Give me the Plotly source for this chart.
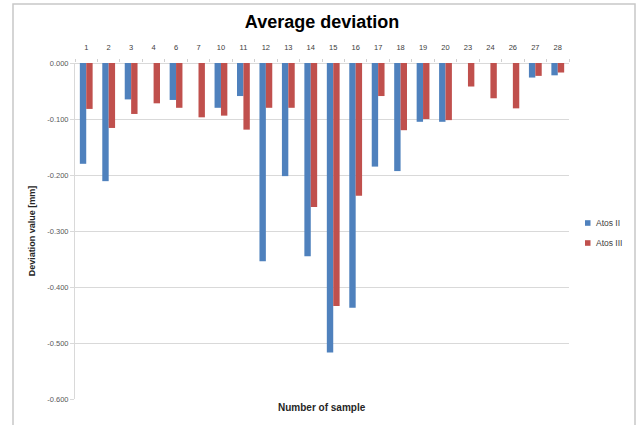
import plotly.graph_objects as go

samples = ["1", "2", "3", "4", "6", "7", "10", "11", "12", "13", "14", "15",
           "16", "17", "18", "19", "20", "23", "24", "26", "27", "28"]
atos_ii = [-0.180, -0.211, -0.065, None, -0.066, None, -0.080, -0.059, -0.354, -0.202, -0.345, -0.517,
           -0.437, -0.185, -0.193, -0.105, -0.105, None, None, None, -0.026, -0.022]
atos_iii = [-0.082, -0.116, -0.091, -0.072, -0.080, -0.097, -0.094, -0.119, -0.080, -0.080, -0.257, -0.434,
            -0.237, -0.059, -0.120, -0.100, -0.102, -0.042, -0.063, -0.081, -0.023, -0.017]
series_names = ["Atos II", "Atos III"]
y_ticks = [0.0, -0.1, -0.2, -0.3, -0.4, -0.5, -0.6]
y_tick_labels = ["0.000", "-0.100", "-0.200", "-0.300", "-0.400", "-0.500", "-0.600"]

FONT = "Liberation Sans"
W, H = 637, 425
L, R, T, B = 75, 68, 63, 26
PW, PH = W - L - R, H - T - B
BLUE, RED = "#4F81BD", "#C0504D"


def px_x(x):
    return (x - L) / PW


def px_y(y):
    return 1 - (y - T) / PH


fig = go.Figure()
fig.add_trace(go.Bar(x=samples, y=atos_ii, name=series_names[0], marker_color=BLUE,
                     marker_line_width=0))
fig.add_trace(go.Bar(x=samples, y=atos_iii, name=series_names[1], marker_color=RED,
                     marker_line_width=0))

fig.update_layout(
    width=W, height=H,
    margin=dict(l=L, r=R, t=T, b=B, pad=0, autoexpand=False),
    paper_bgcolor="white", plot_bgcolor="white",
    barmode="group", bargap=0.43, bargroupgap=0,
    font=dict(family=FONT, color="#404040", size=7),
    title=dict(text="<b>Average deviation</b>", x=(L + (W - R)) / 2 / W, xanchor="center",
               y=1 - 22 / H, yanchor="middle",
               font=dict(family=FONT, size=18, color="#000000")),
    showlegend=False,
    xaxis=dict(side="top", type="category", showgrid=False, showline=False,
               ticks="outside", tickson="boundaries", ticklen=3, tickcolor="#D0D0D0",
               tickfont=dict(size=7.5, color="#404040"), ticklabelstandoff=11, automargin=False),
    yaxis=dict(range=[-0.6, 0], tickvals=y_ticks, ticktext=y_tick_labels,
               showgrid=True, gridcolor="#D9D9D9", gridwidth=1,
               showline=True, linecolor="#D9D9D9", linewidth=1,
               zeroline=True, zerolinecolor="#D9D9D9", zerolinewidth=1,
               ticks="outside", ticklen=4, tickcolor="#D9D9D9", automargin=False,
               tickfont=dict(size=7.5, color="#595959"),
               title=dict(text="<b>Deviation value [mm]</b>", font=dict(size=9, color="#262626"),
                          standoff=10)),
)

# legend (small square keys next to the labels, as in the original)
for name, color, yc in [(series_names[0], BLUE, 223), (series_names[1], RED, 243)]:
    fig.add_shape(type="rect", xref="paper", yref="paper",
                  x0=px_x(585), x1=px_x(590.5), y0=px_y(yc + 2.8), y1=px_y(yc - 2.8),
                  line=dict(width=0), fillcolor=color)
    fig.add_annotation(text=name, xref="paper", yref="paper", x=px_x(594), y=px_y(yc),
                       xanchor="left", yanchor="middle", showarrow=False,
                       font=dict(family=FONT, size=8.5, color="#404040"))

fig.add_annotation(text="<b>Number of sample</b>", xref="paper", yref="paper",
                   x=0.5, y=px_y(408), xanchor="center", yanchor="middle",
                   showarrow=False, font=dict(family=FONT, size=10, color="#262626"))

# chart area border
fig.add_shape(type="rect", xref="paper", yref="paper",
              x0=px_x(13), x1=px_x(635), y0=px_y(432), y1=px_y(4),
              line=dict(color="#C8C8C8", width=1.5), fillcolor="rgba(0,0,0,0)", layer="below")

fig.write_html("out.html", post_script="document.body.style.margin='0';",
               config={"displayModeBar": False})
